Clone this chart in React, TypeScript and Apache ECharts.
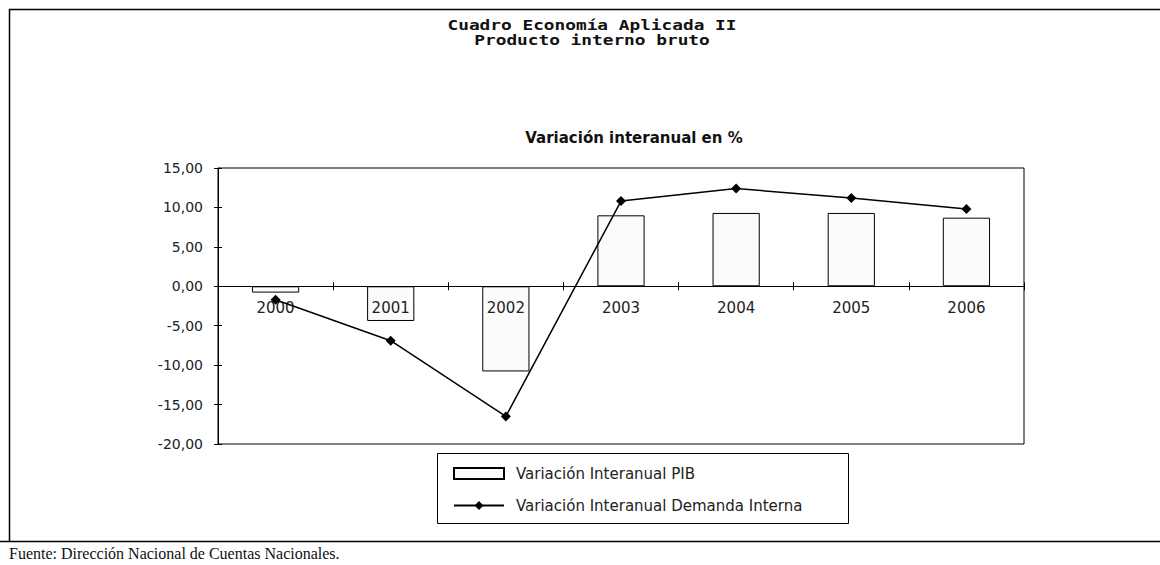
import React, { useEffect, useRef } from "react";
import * as echarts from "echarts";

const years = ["2000", "2001", "2002", "2003", "2004", "2005", "2006"];
const pibValues = [-0.8, -4.4, -10.8, 9.0, 9.3, 9.3, 8.7];
const demandaValues = [-1.7, -6.9, -16.5, 10.8, 12.4, 11.2, 9.8];
const yMin = -20;
const yMax = 15;
const yStep = 5;
const titleLines = ["Cuadro Economía Aplicada II", "Producto interno bruto"];
const subtitle = "Variación interanual en %";
const footer = "Fuente: Dirección Nacional de Cuentas Nacionales.";
const seriesNames = ["Variación Interanual PIB", "Variación Interanual Demanda Interna"];

const fmt = (v: number) => v.toFixed(2).replace(".", ",");

export default function App() {
  const ref = useRef<HTMLDivElement>(null);
  useEffect(() => {
    document.body.style.margin = "0";
    const chart = echarts.init(ref.current!, null, { renderer: "svg" });
    const W = 1160;
    const H = 565;
    const g = { left: 218, right: 136, top: 168, bottom: 121 };
    const gw = W - g.left - g.right;
    const gh = H - g.top - g.bottom;
    const zeroFromTop = (yMax / (yMax - yMin)) * gh;
    const zeroFromBottom = gh - zeroFromTop;
    const axisFont = { fontFamily: "DejaVu Sans", color: "#222" };
    chart.setOption({
      animation: false,
      backgroundColor: "#ffffff",
      title: [
        {
          text: subtitle,
          left: 629,
          top: 125,
          textAlign: "center",
          textStyle: {
            fontFamily: "DejaVu Sans",
            fontWeight: "bold",
            fontSize: 15,
            color: "#111",
          },
        },
        {
          text: footer,
          left: 4,
          top: 540,
          textStyle: {
            fontFamily: "Liberation Serif",
            fontWeight: "normal",
            fontSize: 16,
            color: "#111",
          },
        },
      ],
      grid: {
        ...g,
        show: true,
        borderColor: "#000",
        borderWidth: 1,
        backgroundColor: "transparent",
      },
      xAxis: [
        {
          type: "category",
          data: years,
          position: "bottom",
          offset: -zeroFromBottom,
          z: 3,
          axisLine: { onZero: false, lineStyle: { color: "#000", width: 1 } },
          axisTick: { show: true, length: 4, lineStyle: { color: "#000" } },
          axisLabel: { ...axisFont, fontSize: 15, margin: 14 },
          splitLine: { show: false },
        },
        {
          type: "category",
          data: years,
          position: "top",
          offset: -zeroFromTop,
          z: 3,
          axisLine: { show: false, onZero: false },
          axisTick: { show: true, length: 4, lineStyle: { color: "#000" } },
          axisLabel: { show: false },
          splitLine: { show: false },
        },
      ],
      yAxis: [
        {
          type: "value",
          min: yMin,
          max: yMax,
          interval: yStep,
          position: "left",
          axisLine: { show: true, onZero: false, lineStyle: { color: "#000", width: 1 } },
          axisTick: { show: true, length: 4, lineStyle: { color: "#000" } },
          axisLabel: { ...axisFont, fontSize: 14, margin: 15, formatter: (v: number) => fmt(v) },
          splitLine: { show: false },
        },
        {
          type: "value",
          min: yMin,
          max: yMax,
          interval: yStep,
          position: "right",
          offset: -gw,
          axisLine: { show: false, onZero: false },
          axisTick: { show: true, length: 4, lineStyle: { color: "#000" } },
          axisLabel: { show: false },
          splitLine: { show: false },
        },
      ],
      legend: {
        orient: "vertical",
        left: 448,
        top: 461,
        itemWidth: 50,
        itemHeight: 11,
        itemGap: 17,
        textStyle: {
          fontFamily: "DejaVu Sans",
          fontSize: 15,
          color: "#222",
          padding: [0, 0, 0, 7],
        },
        data: [{ name: seriesNames[0], icon: "rect" }, { name: seriesNames[1] }],
      },
      graphic: [
        {
          type: "text",
          x: 592,
          y: 25,
          scaleX: 1.27,
          silent: true,
          style: {
            text: titleLines[0],
            font: "bold 14px 'DejaVu Sans Mono'",
            fill: "#111",
            textAlign: "center",
            textVerticalAlign: "middle",
          },
        },
        {
          type: "text",
          x: 592,
          y: 40,
          scaleX: 1.27,
          silent: true,
          style: {
            text: titleLines[1],
            font: "bold 14px 'DejaVu Sans Mono'",
            fill: "#111",
            textAlign: "center",
            textVerticalAlign: "middle",
          },
        },
        {
          type: "rect",
          shape: { x: 437.5, y: 453.5, width: 411, height: 70 },
          style: { fill: "none", stroke: "#000", lineWidth: 1 },
          silent: true,
        },
        {
          type: "line",
          shape: { x1: 9.5, y1: 9, x2: 9.5, y2: 541 },
          style: { stroke: "#000", lineWidth: 1.5 },
          silent: true,
        },
        {
          type: "line",
          shape: { x1: 9, y1: 9.5, x2: 1160, y2: 9.5 },
          style: { stroke: "#000", lineWidth: 1.5 },
          silent: true,
        },
        {
          type: "line",
          shape: { x1: 0, y1: 541.5, x2: 1160, y2: 541.5 },
          style: { stroke: "#000", lineWidth: 1.5 },
          silent: true,
        },
      ],
      series: [
        {
          name: seriesNames[0],
          type: "bar",
          data: pibValues,
          barWidth: "41%",
          itemStyle: { color: "#fbfbfb", borderColor: "#000", borderWidth: 1 },
          z: 2,
        },
        {
          name: seriesNames[1],
          type: "line",
          data: demandaValues,
          symbol: "diamond",
          symbolSize: 10,
          lineStyle: { color: "#000", width: 1.5 },
          itemStyle: { color: "#000" },
          z: 4,
        },
      ],
    });
    return () => chart.dispose();
  }, []);
  return <div ref={ref} style={{ width: 1160, height: 565 }} />;
}
